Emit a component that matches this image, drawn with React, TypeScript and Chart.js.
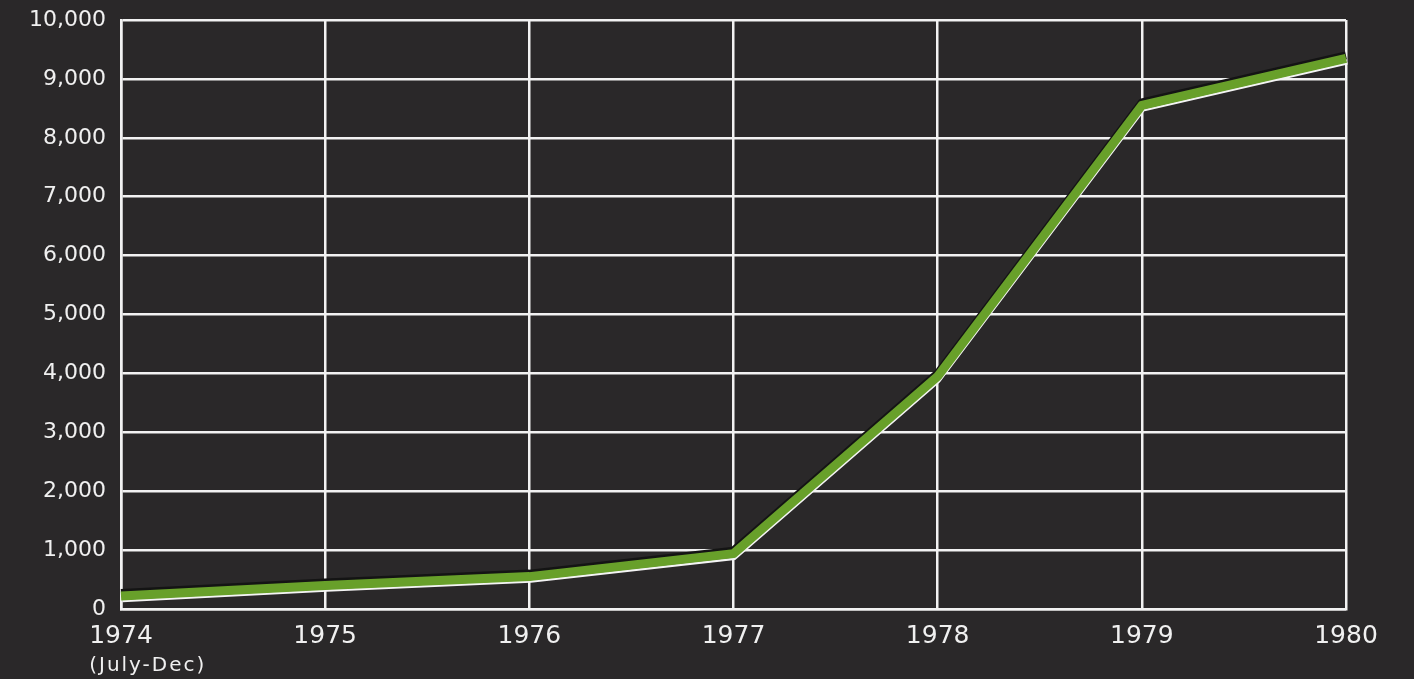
import React, { useEffect, useRef } from "react";
import { Chart, registerables } from "chart.js";

Chart.register(...registerables);

// Yearly totals, 1974 (second half only) through 1980
const years = ["1974", "1975", "1976", "1977", "1978", "1979", "1980"];
const totals = [220, 400, 550, 940, 3950, 8550, 9350];
const firstYearNote = "(July-Dec)";

const yMin = 0;
const yMax = 10000;
const yStep = 1000;

const BG = "#2a2829";
const GRID = "#f2f2f2";
const TEXT = "#f0f0f0";
const GREEN = "#68a02a";
const FONT = "'DejaVu Sans', 'Liberation Sans', sans-serif";

// Draws a dark edge above and a white edge below the series line,
// following the same points the line element uses.
const lineEdges = {
  id: "lineEdges",
  beforeDatasetDraw(chart: any, args: any) {
    if (args.index !== 0) return;
    const pts = args.meta.data;
    const ctx = chart.ctx;
    const stroke = (dx: number, dy: number, color: string, width: number) => {
      ctx.save();
      ctx.beginPath();
      pts.forEach((p: any, i: number) => {
        if (i === 0) ctx.moveTo(p.x + dx, p.y + dy);
        else ctx.lineTo(p.x + dx, p.y + dy);
      });
      ctx.strokeStyle = color;
      ctx.lineWidth = width;
      ctx.lineJoin = "round";
      ctx.lineCap = "butt";
      ctx.stroke();
      ctx.restore();
    };
    stroke(0, -3, "#141414", 8);
    stroke(1.5, 5, "#f4f4f4", 2.5);
  },
};

// Small note under the first year label
const yearNote = {
  id: "yearNote",
  afterDraw(chart: any) {
    const xs = chart.scales.x;
    const ctx = chart.ctx;
    const x0 = xs.getPixelForTick(0);
    ctx.save();
    ctx.font = `25px ${FONT}`;
    const w = ctx.measureText(years[0]).width;
    ctx.font = `20px ${FONT}`;
    (ctx as any).letterSpacing = "2px";
    ctx.fillStyle = TEXT;
    ctx.textAlign = "left";
    ctx.textBaseline = "middle";
    ctx.fillText(firstYearNote, x0 - w / 2, 666);
    ctx.restore();
  },
};

export default function App() {
  const ref = useRef<HTMLCanvasElement>(null);

  useEffect(() => {
    if (!ref.current) return;
    const chart = new Chart(ref.current, {
      type: "line",
      data: {
        labels: years,
        datasets: [
          {
            data: totals,
            borderColor: GREEN,
            borderWidth: 9,
            pointRadius: 0,
            tension: 0,
            borderJoinStyle: "round",
            fill: false,
          },
        ],
      },
      options: {
        animation: false,
        responsive: false,
        devicePixelRatio: 1,
        layout: {
          autoPadding: false,
          padding: { left: 0, top: 20, right: 68, bottom: 0 },
        },
        plugins: {
          legend: { display: false },
          tooltip: { enabled: false },
        },
        scales: {
          x: {
            type: "category",
            offset: false,
            grid: { color: GRID, lineWidth: 2.5, drawTicks: false },
            border: { display: true, color: GRID, width: 2.5 },
            ticks: {
              color: TEXT,
              font: { family: FONT, size: 25 },
              padding: 12,
              maxRotation: 0,
              autoSkip: false,
            },
            afterFit(scale: any) {
              scale.height = 70;
              scale.paddingLeft = 0;
              scale.paddingRight = 0;
            },
          },
          y: {
            min: yMin,
            max: yMax,
            grid: { color: GRID, lineWidth: 2.5, drawTicks: false },
            border: { display: true, color: GRID, width: 2.5 },
            ticks: {
              stepSize: yStep,
              color: TEXT,
              font: { family: FONT, size: 22 },
              padding: 15,
              callback: (v: any) => Number(v).toLocaleString("en-US"),
            },
            afterFit(scale: any) {
              scale.width = 121;
              scale.paddingTop = 0;
              scale.paddingBottom = 0;
            },
          },
        },
      },
      plugins: [lineEdges, yearNote],
    });
    return () => chart.destroy();
  }, []);

  return (
    <div
      style={{
        position: "absolute",
        left: 0,
        top: 0,
        width: 1414,
        height: 679,
        background: BG,
      }}
    >
      <canvas ref={ref} width={1414} height={679} />
    </div>
  );
}
